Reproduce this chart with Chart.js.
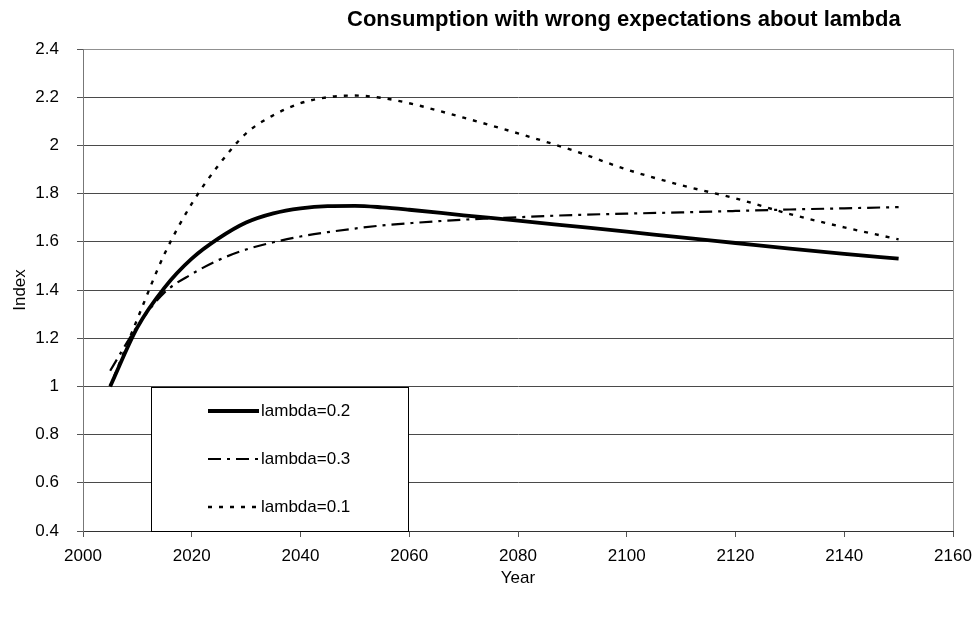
<!DOCTYPE html>
<html>
<head>
<meta charset="utf-8">
<script src="https://cdn.jsdelivr.net/npm/chart.js@4/dist/chart.umd.min.js"></script>
<style>
html,body{margin:0;padding:0;background:#fff;}
#wrap{width:976px;height:618px;position:relative;}
canvas{display:block;}
</style>
</head>
<body>
<div id="wrap"><canvas id="c" width="976" height="618"></canvas></div>
<script>
// ---- data ----
const years    = [2005,2010,2015,2020,2025,2030,2035,2040,2045,2050,2055,2060,2070,2080,2090,2100,2110,2120,2130,2140,2150];
const lambda02 = [1.00,1.245,1.41,1.53,1.615,1.68,1.718,1.739,1.748,1.749,1.743,1.733,1.71,1.688,1.665,1.642,1.618,1.595,1.572,1.55,1.53];
const lambda03 = [1.065,1.25,1.39,1.466,1.525,1.568,1.598,1.622,1.64,1.655,1.668,1.677,1.692,1.702,1.711,1.717,1.722,1.728,1.734,1.739,1.744];
const lambda01 = [1.00,1.28,1.55,1.758,1.92,2.05,2.125,2.175,2.20,2.207,2.197,2.175,2.115,2.05,1.98,1.90,1.835,1.78,1.715,1.66,1.61];
const seriesNames = ['lambda=0.2','lambda=0.3','lambda=0.1'];
const xTicks = [2000,2020,2040,2060,2080,2100,2120,2140,2160];
const yTicks = [0.4,0.6,0.8,1,1.2,1.4,1.6,1.8,2,2.2,2.4];
const chartTitle = 'Consumption with wrong expectations about lambda';
const xTitle = 'Year';
const yTitle = 'Index';

const FONT = '"Liberation Sans", Arial, sans-serif';
const toPts = arr => arr.map((v,i)=>({x:years[i], y:v}));

const overlay = {
  id:'overlay',
  afterDatasetsDraw(chart){
    const {ctx, chartArea:a} = chart;
    const bx = a.left + 68, by = a.top + 338, bw = 257, bh = a.bottom - by;
    ctx.save();
    ctx.fillStyle = '#fff';
    ctx.fillRect(bx, by, bw, bh);
    ctx.strokeStyle = '#000';
    ctx.lineWidth = 1;
    ctx.strokeRect(bx+0.5, by+0.5, bw, bh);
    chart.data.datasets.forEach((ds,i)=>{
      const yy = by + 24 + i*48;
      ctx.beginPath();
      ctx.setLineDash(ds.borderDash || []);
      ctx.lineWidth = ds.borderWidth;
      ctx.strokeStyle = ds.borderColor;
      ctx.moveTo(bx+57, yy);
      ctx.lineTo(bx+108, yy);
      ctx.stroke();
      ctx.setLineDash([]);
      ctx.fillStyle = '#000';
      ctx.font = '17px ' + FONT;
      ctx.textBaseline = 'middle';
      ctx.textAlign = 'left';
      ctx.fillText(ds.label, bx+110, yy);
    });
    ctx.restore();
  },
  afterDraw(chart){
    const {ctx} = chart;
    ctx.save();
    ctx.fillStyle = '#000';
    ctx.font = 'bold 22px ' + FONT;
    ctx.textAlign = 'left';
    ctx.textBaseline = 'middle';
    ctx.fillText(chartTitle, 347, 20);
    ctx.restore();
  }
};

new Chart(document.getElementById('c'), {
  type:'line',
  data:{
    datasets:[
      {label:seriesNames[0], data:toPts(lambda02), borderColor:'#000', borderWidth:3.8, pointRadius:0, cubicInterpolationMode:'monotone', fill:false},
      {label:seriesNames[1], data:toPts(lambda03), borderColor:'#000', borderWidth:2.2, borderDash:[13,6,3,6], pointRadius:0, cubicInterpolationMode:'monotone', fill:false},
      {label:seriesNames[2], data:toPts(lambda01), borderColor:'#000', borderWidth:2.4, borderDash:[4,7], pointRadius:0, cubicInterpolationMode:'monotone', fill:false}
    ]
  },
  plugins:[overlay],
  options:{
    responsive:false,
    maintainAspectRatio:false,
    animation:false,
    devicePixelRatio:1,
    layout:{padding:{top:49, right:23, left:0, bottom:0}},
    plugins:{legend:{display:false}, title:{display:false}, tooltip:{enabled:false}},
    scales:{
      x:{
        type:'linear', min:xTicks[0], max:xTicks[xTicks.length-1],
        afterBuildTicks(s){ s.ticks = xTicks.map(v=>({value:v})); },
        afterFit(s){ s.height = 87; s.paddingLeft = 0; s.paddingRight = 0; },
        ticks:{color:'#000', font:{family:FONT, size:17}, padding:9, maxRotation:0, autoSkip:false, callback:v=>String(v)},
        grid:{color:c=> (c.tick && c.tick.value===xTicks[xTicks.length-1]) ? '#909090' : 'rgba(0,0,0,0)', tickColor:'#555', tickLength:6, drawOnChartArea:true},
        border:{color:'#333', width:1},
        title:{display:true, text:xTitle, color:'#000', font:{family:FONT, size:17}, padding:{top:0,bottom:29}}
      },
      y:{
        min:yTicks[0], max:yTicks[yTicks.length-1],
        afterBuildTicks(s){ s.ticks = yTicks.map(v=>({value:v})); },
        afterFit(s){ s.width = 83; s.paddingTop = 0; s.paddingBottom = 0; },
        ticks:{color:'#000', font:{family:FONT, size:17}, padding:18, callback:v=>String(+Number(v).toFixed(1))},
        grid:{color:c=> (c.tick && c.tick.value===yTicks[yTicks.length-1]) ? '#909090' : '#4a4a4a', tickColor:'#555', tickLength:6},
        border:{color:'#777', width:1},
        title:{display:true, text:yTitle, color:'#000', font:{family:FONT, size:17}, padding:{top:10,bottom:0}}
      }
    }
  }
});
</script>
</body>
</html>
